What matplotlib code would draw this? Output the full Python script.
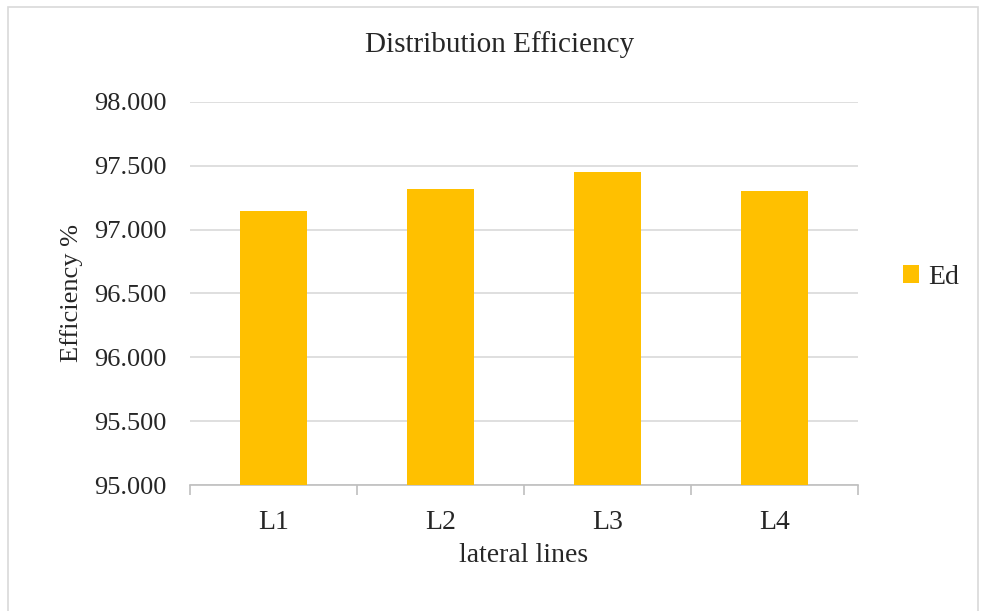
import matplotlib
matplotlib.use("Agg")
import matplotlib.pyplot as plt
from matplotlib.patches import Rectangle

categories = ["L1", "L2", "L3", "L4"]
values = [97.146, 97.315, 97.453, 97.305]
series_name = "Ed"
yticks = [95.0, 95.5, 96.0, 96.5, 97.0, 97.5, 98.0]

plt.rcParams['font.family'] = ['Liberation Serif', 'DejaVu Serif']

fig = plt.figure(figsize=(9.82, 6.11), dpi=100)
ax = fig.add_axes([0.1935, 0.2062, 0.68, 0.6269])

x = list(range(len(categories)))
ax.bar(x, values, width=0.4, color="#FFC000", label=series_name, zorder=3)
ax.set_xlim(-0.5, len(categories) - 0.5)
ax.set_ylim(95.0, 98.0)
ax.set_yticks(yticks)
ax.set_yticklabels([f"{v:.3f}" for v in yticks])
ax.set_xticks(x)
ax.set_xticklabels(categories)

ax.grid(axis='y', color="#D9D9D9", linewidth=1.2, zorder=0)
for s in ['left', 'right', 'top']:
    ax.spines[s].set_visible(False)
ax.spines['bottom'].set_color("#BFBFBF")
ax.spines['bottom'].set_linewidth(1.2)
ax.tick_params(axis='y', length=0, pad=17, labelsize=19, colors="#262626")
ax.tick_params(axis='x', length=0, pad=18, labelsize=20, colors="#262626")
# category boundary tick marks
ax.set_xticks([i - 0.5 for i in range(len(categories) + 1)], minor=True)
ax.tick_params(axis='x', which='minor', length=7, color="#BFBFBF", width=1.2)

fig.text(500 / 982, 1 - 45 / 611, "Distribution Efficiency", fontsize=21,
         color="#262626", ha='center', va='center')
ax.set_xlabel("lateral lines", fontsize=20, color="#262626", labelpad=6)
ax.set_ylabel("Efficiency %", fontsize=19, color="#262626", labelpad=8)

leg = ax.legend(loc='center left', bbox_to_anchor=(1.03, 0.543), frameon=False,
                fontsize=20, handlelength=0.6, handleheight=0.6, handletextpad=0.3,
                labelcolor="#262626")

fig.patches.append(Rectangle((0.008, -0.01), 0.988, 0.998, transform=fig.transFigure,
                             fill=False, edgecolor="#D9D9D9", linewidth=1.2))

fig.savefig("out.png", dpi=100)
